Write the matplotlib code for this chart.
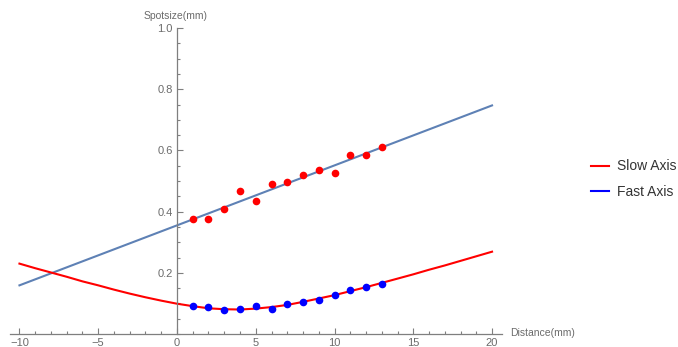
#!/usr/bin/env python3
"""Spot size vs distance: measured points with fitted curves."""

import matplotlib

matplotlib.use("Agg")
import matplotlib.pyplot as plt
from matplotlib.lines import Line2D
from matplotlib.ticker import MultipleLocator

plt.rcParams["font.family"] = ["Liberation Sans", "DejaVu Sans"]

# --- measured data (mm) ---
dist_pts = [1, 2, 3, 4, 5, 6, 7, 8, 9, 10, 11, 12, 13]
slow_pts = [0.376, 0.376, 0.410, 0.467, 0.436, 0.490, 0.497, 0.520, 0.535, 0.526, 0.585, 0.585, 0.612]
fast_pts = [0.091, 0.088, 0.078, 0.081, 0.091, 0.081, 0.097, 0.104, 0.110, 0.127, 0.144, 0.155, 0.165]

# --- fitted curves ---
lin_x = [-10, 20]
lin_y = [0.159, 0.747]

curve_x = list(range(-10, 21))
curve_y = [0.230, 0.215, 0.201, 0.187, 0.172, 0.159, 0.145, 0.132, 0.120, 0.109,
           0.099, 0.091, 0.084, 0.081, 0.080, 0.083, 0.088, 0.095, 0.105, 0.116,
           0.127, 0.140, 0.153, 0.167, 0.181, 0.195, 0.210, 0.224, 0.239, 0.254,
           0.269]

W, H = 678, 347
AX_GRAY = "#7f7f7f"
LBL_GRAY = "#6b6b6b"
BLUE_LINE = "#5e81b5"

fig = plt.figure(figsize=(W / 100, H / 100), dpi=100)
ax = fig.add_axes([10 / W, (H - 334) / H, 491.5 / W, 306 / H])

ax.plot(lin_x, lin_y, color=BLUE_LINE, lw=1.5, zorder=2)
ax.plot(curve_x, curve_y, color="red", lw=1.5, zorder=2)
ax.plot(dist_pts, slow_pts, "o", color="red", ms=5.5, mec="none", zorder=3)
ax.plot(dist_pts, fast_pts, "o", color="blue", ms=5.5, mec="none", zorder=3)

ax.set_xlim(-10.6, 20.6)
ax.set_ylim(0, 1.0)

for side in ("top", "right"):
    ax.spines[side].set_visible(False)
ax.spines["left"].set_position(("data", 0))
ax.spines["bottom"].set_position(("data", 0))
for side in ("left", "bottom"):
    ax.spines[side].set_color(AX_GRAY)
    ax.spines[side].set_linewidth(0.9)

ax.xaxis.set_major_locator(MultipleLocator(5))
ax.xaxis.set_minor_locator(MultipleLocator(1))
ax.set_yticks([0.2, 0.4, 0.6, 0.8, 1.0])
ax.set_yticklabels(["0.2", "0.4", "0.6", "0.8", "1.0"])
ax.yaxis.set_minor_locator(MultipleLocator(0.05))

ax.tick_params(which="both", direction="in", color=AX_GRAY, labelcolor=LBL_GRAY,
               labelsize=8, width=0.8)
ax.tick_params(which="major", length=4)
ax.tick_params(which="minor", length=2.2)
ax.tick_params(axis="x", pad=3)
ax.tick_params(axis="y", pad=3)

fig.text(176 / W, 1 - 16 / H, "Spotsize(mm)", ha="center", va="center",
         fontsize=7.5, color=LBL_GRAY)
fig.text(510 / W, 1 - 333 / H, "Distance(mm)", ha="left", va="center",
         fontsize=7.5, color=LBL_GRAY)

handles = [Line2D([], [], color="red", lw=1.5), Line2D([], [], color="blue", lw=1.5)]
fig.legend(handles, ["Slow Axis", "Fast Axis"], loc="center left",
           bbox_to_anchor=(578 / W, 1 - 179 / H), frameon=False, fontsize=10,
           handlelength=1.3, handletextpad=0.6, labelspacing=0.8,
           labelcolor="#333333")

fig.savefig("out.png", dpi=100)
